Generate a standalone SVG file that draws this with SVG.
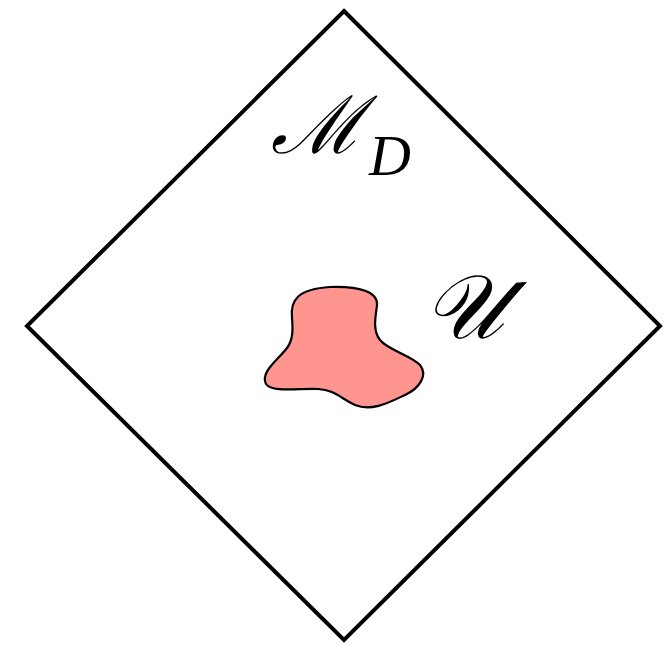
<svg xmlns="http://www.w3.org/2000/svg" width="667" height="646" viewBox="0 0 667 646">
<style>
.frame{fill:none;stroke:#000;stroke-width:4;stroke-linejoin:miter}
.blob{fill:#fe968f;stroke:#000;stroke-width:2.2}
.lbl{font-family:"DejaVu Serif","Liberation Serif",serif;font-style:italic;fill:#000}
</style>
<rect width="667" height="646" fill="#fff"/>
<g id="space">
<polygon class="frame" points="344,11 660,326 344,640 27,326"/>
<text class="lbl" x="271" y="153" style="font-size:80px">ℳ</text>
<text class="lbl" x="369" y="175" style="font-family:'Liberation Serif',serif;font-size:58px">D</text>
</g>
<g id="region">
<path class="blob" d="M292,318 C290,300 298,289 330,287 C360,286 378,292 377,305 C376,315 372,330 380,340 C388,350 410,355 420,365 C428,375 420,388 405,395 C390,402 372,412 355,405 C340,398 335,390 318,389 C300,388 272,393 266,384 C260,372 278,360 287,348 C293,340 293,330 292,318 Z"/>
<text class="lbl" x="423" y="338" style="font-size:90px">𝒰</text>
</g>
</svg>
